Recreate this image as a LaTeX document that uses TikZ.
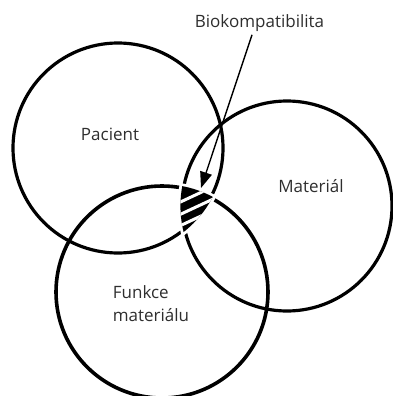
\documentclass[tikz,border=0pt]{standalone}
\usepackage{fontspec}
\setmainfont{Open Sans}
\usetikzlibrary{arrows.meta}
\definecolor{txt}{HTML}{2E2E2E}
\begin{document}
\begin{tikzpicture}[x=1pt,y=-1pt,
  ring/.style={circle,draw=black,line width=3.2pt,inner sep=0pt,outer sep=0pt},
  lbl/.style={font=\fontsize{17}{20}\selectfont,text=txt,inner sep=0pt},
  pointer/.style={draw=black,line width=1.4pt,-{Triangle[length=16pt,width=12pt]}}]
\useasboundingbox (0,0) rectangle (392,396);
% circles
\node[ring,minimum size=210pt] (pac) at (118,148) {};
\node[ring,minimum size=210pt] (mat) at (287,206) {};
\node[ring,minimum size=212pt,line width=3.6pt] (fun) at (162,292) {};
% white gap around the triple intersection
\begin{scope}
  \clip (pac.center) circle[radius=109.5];
  \clip (mat.center) circle[radius=109.5];
  \clip (fun.center) circle[radius=110.5];
  \fill[white] (150,160) rectangle (250,260);
\end{scope}
% hatched triple intersection
\begin{scope}
  \clip (pac.center) circle[radius=106.6];
  \clip (mat.center) circle[radius=106.6];
  \clip (fun.center) circle[radius=107.8];
  \fill[black] (150,160) rectangle (250,260);
  \foreach \yy in {195.2,207.5,218.8}{
    \draw[white,line width=3pt] (160,{\yy+35*0.466}) -- (235,{\yy-40*0.466});
  }
\end{scope}
% labels
\node[lbl,anchor=base] (bio) at (259.5,27.5) {Biokompatibilita};
\node[lbl,anchor=base] (pacl) at (110,140.7) {Pacient};
\node[lbl,anchor=base] (matl) at (311,192.7) {Materiál};
\node[lbl,anchor=base west] (fun1) at (112.7,298.3) {Funkce};
\node[lbl,anchor=base west] (fun2) at (112.7,321) {materiálu};
% arrow
\coordinate (tip) at (201,188);
\draw[pointer] (bio.south -| 252,0) ++(0,3) -- (tip);
\end{tikzpicture}
\end{document}
